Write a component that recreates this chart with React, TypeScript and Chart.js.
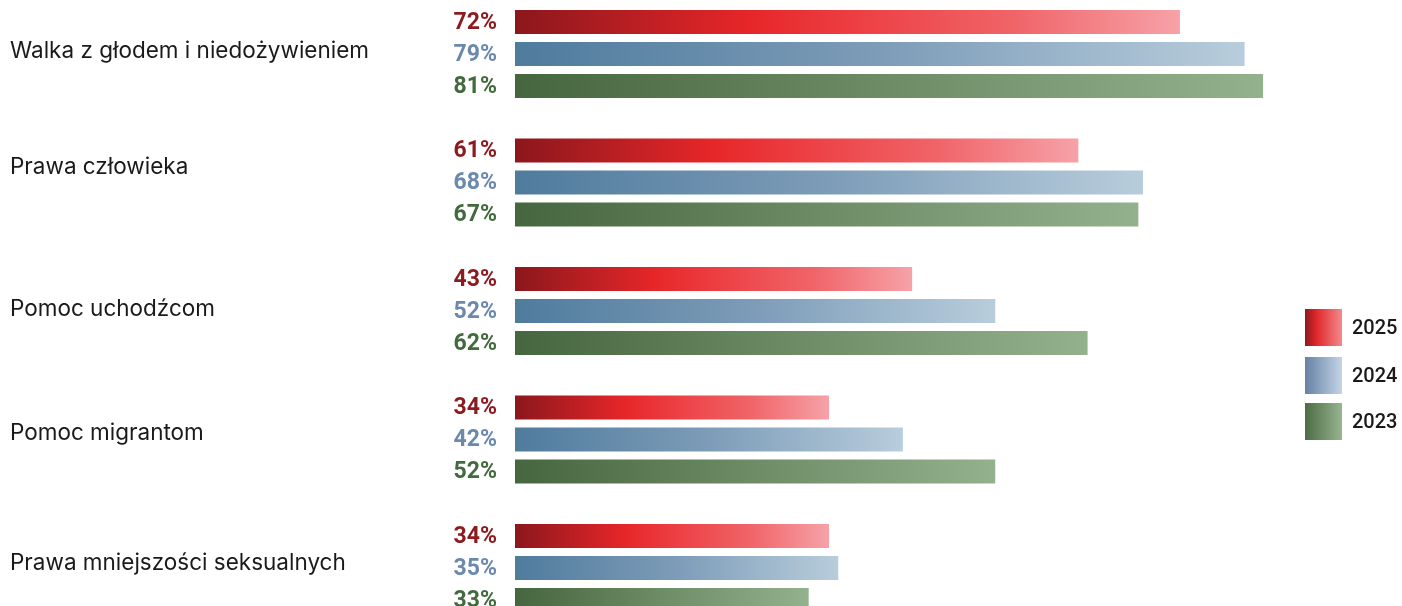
import React, { useEffect, useRef } from "react";
import { Chart, registerables } from "chart.js";

Chart.register(...registerables);

const categories = [
  "Walka z głodem i niedożywieniem",
  "Prawa człowieka",
  "Pomoc uchodźcom",
  "Pomoc migrantom",
  "Prawa mniejszości seksualnych",
];
const seriesNames = ["2025", "2024", "2023"];
const values2025 = [72, 61, 43, 34, 34];
const values2024 = [79, 68, 52, 42, 35];
const values2023 = [81, 67.5, 62, 52, 31.8];
const labels2025 = ["72%", "61%", "43%", "34%", "34%"];
const labels2024 = ["79%", "68%", "52%", "42%", "35%"];
const labels2023 = ["81%", "67%", "62%", "52%", "33%"];

// style: baseline shift of each category label relative to its category centre
const catBaselineShift = [4, -9, 5, 0, 2];

const barStops: [number, string][][] = [
  [[0, "#8B171C"], [0.35, "#E62629"], [0.5, "#EC3D41"], [0.75, "#F06468"], [1, "#F6A2A8"]],
  [[0, "#4F7B9D"], [0.5, "#7D9CB8"], [1, "#B8CDDC"]],
  [[0, "#466640"], [0.5, "#6E8C66"], [1, "#93B18D"]],
];
const legendStops: [number, string][][] = [
  [[0, "#8A1A1E"], [0.3, "#E0262A"], [1, "#F48A8C"]],
  [[0, "#6781A5"], [1, "#C3D4E5"]],
  [[0, "#4D6B44"], [1, "#96B590"]],
];
const labelColors = ["#8B1B1F", "#6B89AD", "#416B3D"];
const FONT = "Roboto, 'Noto Sans', sans-serif";
const CAT_FONT = "Inter, Roboto, sans-serif";

const OFFSET = 50;
const H = 740;

export default function App() {
  const ref = useRef<HTMLCanvasElement | null>(null);

  useEffect(() => {
    const canvas = ref.current;
    if (!canvas) return;
    const valueSets = [values2025, values2024, values2023];
    const labelSets = [labels2025, labels2024, labels2023];

    const makeBg = (i: number) => (ctx: any) => {
      const chart = ctx.chart;
      if (!chart.chartArea || ctx.type !== "data" || !chart.scales.x) return barStops[i][0][1];
      const xs = chart.scales.x;
      const x0 = xs.getPixelForValue(0);
      const x1 = xs.getPixelForValue(ctx.raw);
      const g = chart.ctx.createLinearGradient(x0, 0, Math.max(x1, x0 + 1), 0);
      barStops[i].forEach(([o, c]) => g.addColorStop(o, c));
      return g;
    };

    const labelPlugin = {
      id: "valueLabels",
      afterDatasetsDraw(chart: any) {
        const c = chart.ctx;
        c.save();
        c.font = `bold 23px ${FONT}`;
        c.textAlign = "right";
        c.textBaseline = "middle";
        chart.data.datasets.forEach((_: any, di: number) => {
          const meta = chart.getDatasetMeta(di);
          c.fillStyle = labelColors[di];
          meta.data.forEach((el: any, idx: number) => {
            c.fillText(labelSets[di][idx], 497, el.y + 1);
          });
        });
        // category labels
        const ys = chart.scales.y;
        c.font = `22.5px ${CAT_FONT}`;
        c.fillStyle = "#1a1a1a";
        c.textAlign = "left";
        c.textBaseline = "alphabetic";
        chart.data.labels.forEach((lab: string, i: number) => {
          c.fillText(lab, 10, ys.getPixelForValue(i) + catBaselineShift[i]);
        });
        c.restore();
      },
    };

    const legendPlugin = {
      id: "gradLegend",
      afterDraw(chart: any) {
        const c = chart.ctx;
        c.save();
        const tops = [309, 357, 403];
        seriesNames.forEach((name, i) => {
          const x = 1305, y = tops[i] + OFFSET, s = 37;
          const g = c.createLinearGradient(x, 0, x + s, 0);
          legendStops[i].forEach(([o, col]) => g.addColorStop(o, col));
          c.fillStyle = g;
          c.fillRect(x, y, s, s);
          c.fillStyle = "#1a1a1a";
          c.font = `500 20px ${FONT}`;
          c.textAlign = "left";
          c.textBaseline = "middle";
          c.fillText(name, 1352, y + s / 2 + 1);
        });
        c.restore();
      },
    };

    const areaTop = OFFSET - 10.25;
    const areaBottom = areaTop + 642.5;

    const chart = new Chart(canvas, {
      type: "bar",
      data: {
        labels: categories,
        datasets: seriesNames.map((name, i) => ({
          label: name,
          data: valueSets[i],
          backgroundColor: makeBg(i),
          borderWidth: 0,
          categoryPercentage: 0.7471,
          barPercentage: 0.75,
        })),
      },
      options: {
        indexAxis: "y",
        animation: false,
        responsive: false,
        devicePixelRatio: 1,
        layout: { padding: { left: 10, right: 102, top: areaTop, bottom: H - areaBottom } },
        plugins: { legend: { display: false }, tooltip: { enabled: false } },
        scales: {
          x: { type: "linear", min: 0, max: 85, display: false },
          y: {
            type: "category",
            grid: { display: false },
            border: { display: false },
            ticks: { display: false },
            afterFit: (scale: any) => {
              scale.width = 505;
            },
          },
        },
      },
      plugins: [labelPlugin, legendPlugin],
    } as any);
    return () => chart.destroy();
  }, []);

  return (
    <div
      style={{
        position: "fixed",
        left: 0,
        top: 0,
        width: 1402,
        height: 606,
        overflow: "hidden",
        background: "#fff",
      }}
    >
      <canvas
        ref={ref}
        width={1402}
        height={H}
        style={{ position: "absolute", left: 0, top: -OFFSET, width: 1402, height: H }}
      />
    </div>
  );
}
